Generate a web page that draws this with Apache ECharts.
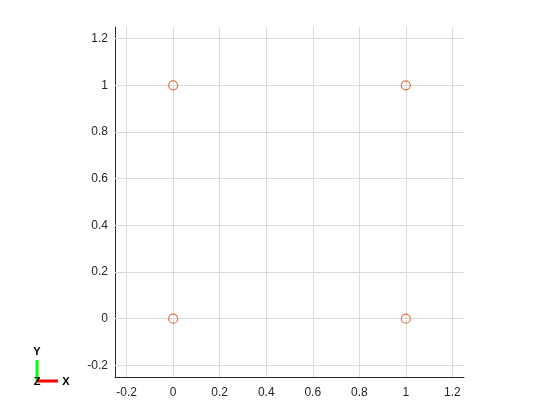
<!DOCTYPE html>
<html><head><meta charset="utf-8">
<script src="https://cdn.jsdelivr.net/npm/echarts@6/dist/echarts.min.js"></script>
<style>html,body{margin:0;padding:0;background:#fff}#c{width:560px;height:420px}</style>
</head><body><div id="c"></div>
<script>
var xValues = [0, 0, 1, 1];
var yValues = [0, 1, 0, 1];
var xTicks = [-0.2, 0, 0.2, 0.4, 0.6, 0.8, 1, 1.2];
var yTicks = [-0.2, 0, 0.2, 0.4, 0.6, 0.8, 1, 1.2];

var chart = echarts.init(document.getElementById('c'));
var pts = xValues.map(function(x, i){ return [x, yValues[i]]; });
var font = 'Liberation Sans, Arial, sans-serif';
function fmt(v){ return String(Math.round(v*10)/10); }
chart.setOption({
  animation: false,
  grid: {left: 115, right: 96, top: 27, bottom: 43, containLabel: false},
  xAxis: {
    type: 'value', min: -0.25, max: 1.25,
    axisLine: {show: true, onZero: false, lineStyle: {color: '#262626', width: 1}},
    axisTick: {show: true, inside: true, length: 4, customValues: xTicks, lineStyle: {color: '#262626'}},
    axisLabel: {customValues: xTicks, formatter: fmt, color: '#262626', fontSize: 12, fontFamily: font, margin: 10},
    splitLine: {show: false}
  },
  yAxis: {
    type: 'value', min: -0.25, max: 1.25,
    axisLine: {show: true, onZero: false, lineStyle: {color: '#262626', width: 1}},
    axisTick: {show: true, inside: true, length: 4, customValues: yTicks, lineStyle: {color: '#262626'}},
    axisLabel: {customValues: yTicks, formatter: fmt, color: '#262626', fontSize: 12, fontFamily: font, margin: 7},
    splitLine: {show: false}
  },
  series: [
    {
      type: 'scatter', data: [], silent: true,
      markLine: {
        silent: true, symbol: ['none', 'none'], label: {show: false},
        lineStyle: {color: '#dcdcdc', type: 'solid', width: 1},
        data: xTicks.map(function(v){ return {xAxis: v}; }).concat(yTicks.map(function(v){ return {yAxis: v}; }))
      },
      z: 1
    },
    {
      type: 'scatter', data: pts, symbol: 'circle', symbolSize: 9,
      itemStyle: {color: 'rgba(0,0,0,0)', borderColor: '#D95319', borderWidth: 1.2},
      z: 5
    }
  ],
  graphic: [
    {type: 'line', shape: {x1: 37, y1: 381, x2: 37, y2: 360}, style: {stroke: '#00ff00', lineWidth: 3}},
    {type: 'line', shape: {x1: 37, y1: 381, x2: 58, y2: 381}, style: {stroke: '#ff0000', lineWidth: 3}},
    {type: 'text', x: 37, y: 352, style: {text: 'Y', fill: '#000', font: 'bold 11px ' + font, align: 'center', verticalAlign: 'middle'}},
    {type: 'text', x: 66, y: 382, style: {text: 'X', fill: '#000', font: 'bold 11px ' + font, align: 'center', verticalAlign: 'middle'}},
    {type: 'text', x: 37, y: 382, style: {text: 'Z', fill: '#000', font: 'bold 11px ' + font, align: 'center', verticalAlign: 'middle'}}
  ]
});
</script></body></html>
